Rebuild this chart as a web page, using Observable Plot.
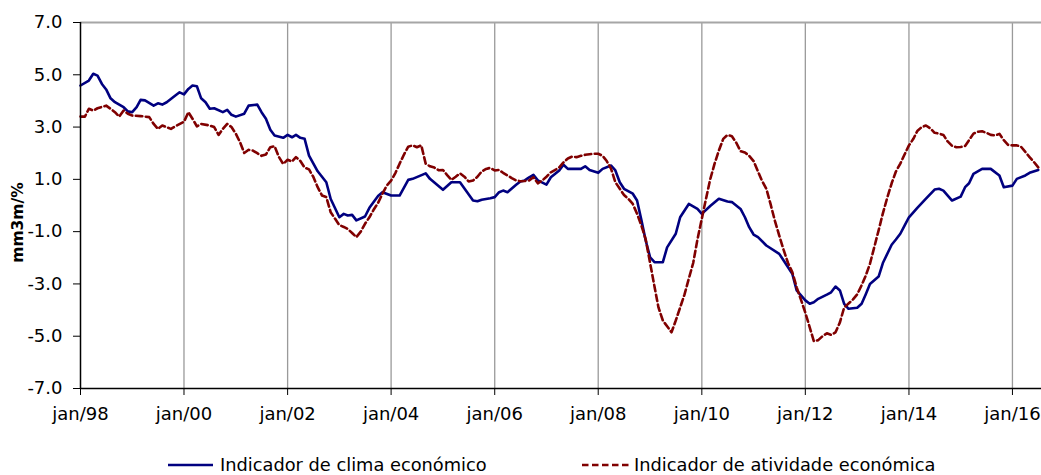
<!DOCTYPE html>
<html>
<head>
<meta charset="utf-8">
<script src="https://cdn.jsdelivr.net/npm/d3@7"></script>
<script src="https://cdn.jsdelivr.net/npm/@observablehq/plot@0.6"></script>
<style>
  body { margin: 0; background: #fff; font-family: "DejaVu Sans", Verdana, sans-serif; }
  #wrap { width: 1041px; }
  #legend { position: relative; width: 1041px; height: 45px; font-size: 17.8px; color: #000; }
  #legend .sw { position: absolute; top: 25px; }
  #legend .lab { position: absolute; top: 24px; line-height: 22px; white-space: nowrap; }
</style>
</head>
<body>
<div id="wrap">
  <div id="chart"></div>
  <div id="legend"></div>
</div>
<script>
// Months counted from jan/98 (0 = jan/98)
const climaMes = [0,2,3,4,5,6,7,8,10,11,12,13,14,15,17,18,19,20,22,23,24,25,26,27,28,29,30,31,33,34,35,36,38,39,41,42,43,44,45,47,48,49,50,51,52,53,55,57,58,60,61,62,63,64,66,67,69,70,72,74,76,77,80,81,84,86,88,91,92,93,95,96,97,98,99,101,102,103,104,105,106,108,109,111,112,113,116,117,118,120,121,123,124,125,126,128,129,130,131,132,133,135,136,138,139,141,143,144,146,148,150,151,153,154,155,156,157,159,162,163,165,166,168,169,170,171,173,174,175,176,177,178,180,181,182,183,185,186,188,189,190,191,192,194,196,198,199,200,202,204,205,206,207,209,211,213,214,216,217,219,220,222];
const climaValor = [4.59,4.78,5.04,4.97,4.65,4.44,4.10,3.95,3.76,3.60,3.57,3.76,4.04,4.02,3.82,3.91,3.86,3.95,4.21,4.33,4.25,4.46,4.59,4.56,4.10,3.95,3.70,3.72,3.57,3.66,3.47,3.40,3.51,3.82,3.86,3.57,3.32,2.90,2.68,2.59,2.70,2.61,2.70,2.59,2.55,1.91,1.31,0.89,0.25,-0.45,-0.32,-0.38,-0.36,-0.57,-0.42,-0.09,0.36,0.51,0.38,0.38,0.98,1.02,1.23,1.02,0.60,0.89,0.89,0.19,0.16,0.22,0.28,0.32,0.51,0.57,0.51,0.79,0.92,0.96,1.08,1.17,0.96,0.80,1.08,1.34,1.56,1.40,1.40,1.50,1.36,1.25,1.40,1.53,1.34,0.89,0.64,0.45,0.19,-0.57,-1.34,-1.98,-2.17,-2.17,-1.60,-1.08,-0.45,0.06,-0.13,-0.32,-0.02,0.26,0.15,0.13,-0.13,-0.45,-0.83,-1.11,-1.21,-1.53,-1.85,-2.10,-2.61,-3.25,-3.63,-3.76,-3.70,-3.57,-3.41,-3.32,-3.10,-3.25,-3.76,-3.95,-3.91,-3.76,-3.41,-3.00,-2.72,-2.20,-1.50,-1.30,-1.08,-0.77,-0.45,-0.09,0.26,0.61,0.64,0.57,0.19,0.34,0.70,0.85,1.21,1.40,1.40,1.15,0.70,0.76,1.02,1.15,1.25,1.36];

const atividadeMes = [0,1,2,3,4,6,7,8,9,10,11,12,14,16,17,18,19,21,22,24,25,26,27,28,30,31,32,33,34,35,36,37,38,39,40,41,42,43,44,45,46,47,48,49,50,51,52,53,54,55,56,57,58,59,60,61,62,63,64,65,66,67,68,69,70,71,72,73,74,75,76,77,78,79,80,81,82,83,84,85,86,87,88,89,90,91,92,93,94,95,96,97,98,99,100,101,102,103,104,105,106,107,108,109,110,111,112,113,114,115,116,117,118,119,120,121,122,123,124,125,126,127,128,129,130,131,132,133,134,135,136,137,138,139,140,141,142,143,144,145,146,147,148,149,150,151,152,153,154,155,156,157,158,159,160,161,162,163,164,165,166,167,168,169,170,171,172,173,174,175,176,177,178,179,180,181,182,183,184,185,186,187,188,189,190,191,192,193,194,195,196,197,198,199,200,201,202,203,204,205,206,207,208,209,210,211,212,213,214,215,216,217,218,219,220,221,222];
const atividadeValor = [3.40,3.40,3.70,3.63,3.72,3.82,3.70,3.57,3.40,3.63,3.51,3.44,3.42,3.38,3.12,2.93,3.06,2.93,3.03,3.20,3.57,3.32,3.03,3.12,3.06,3.00,2.70,2.93,3.12,3.00,2.74,2.40,2.01,2.13,2.10,2.00,1.90,1.95,2.23,2.27,1.85,1.59,1.75,1.68,1.85,1.70,1.45,1.38,1.10,0.70,0.38,0.32,-0.26,-0.50,-0.75,-0.82,-0.90,-1.05,-1.21,-1.00,-0.70,-0.45,-0.15,0.10,0.45,0.76,0.95,1.25,1.60,1.95,2.25,2.30,2.23,2.30,1.60,1.50,1.45,1.35,1.36,1.15,0.98,1.10,1.23,1.10,0.92,0.96,1.10,1.30,1.40,1.44,1.34,1.36,1.25,1.15,1.05,0.96,0.93,0.94,0.96,1.08,0.85,0.95,1.10,1.27,1.35,1.46,1.65,1.80,1.87,1.85,1.90,1.94,1.96,1.98,1.98,1.90,1.70,1.40,0.89,0.64,0.40,0.25,0.06,-0.32,-0.77,-1.30,-2.20,-3.10,-3.90,-4.40,-4.62,-4.85,-4.40,-3.90,-3.40,-2.80,-2.20,-1.30,-0.50,0.30,1.00,1.60,2.10,2.55,2.70,2.65,2.40,2.08,2.03,1.90,1.70,1.30,0.95,0.64,0.05,-0.60,-1.15,-1.70,-2.20,-2.55,-3.13,-3.60,-4.10,-4.66,-5.19,-5.15,-5.00,-4.89,-4.95,-4.85,-4.47,-3.90,-3.75,-3.60,-3.40,-3.05,-2.70,-2.23,-1.60,-0.95,-0.30,0.30,0.85,1.30,1.60,1.95,2.30,2.55,2.85,3.00,3.06,2.95,2.78,2.75,2.70,2.45,2.28,2.23,2.24,2.28,2.50,2.75,2.82,2.84,2.78,2.70,2.68,2.74,2.50,2.32,2.30,2.30,2.25,2.05,1.85,1.66,1.46];

const tickYears = [1998,2000,2002,2004,2006,2008,2010,2012,2014,2016];
const yTicks = [-7,-5,-3,-1,1,3,5,7];
const serieNomes = ["Indicador de clima económico", "Indicador de atividade económica"];
const yLabel = "mm3m/%";

const toDate = m => new Date(Date.UTC(1998, m, 1));
const clima = climaMes.map((m, i) => ({date: toDate(m), value: climaValor[i]}));
const atividade = atividadeMes.map((m, i) => ({date: toDate(m), value: atividadeValor[i]}));
const tickDates = tickYears.map(y => new Date(Date.UTC(y, 0, 1)));
const xStart = tickDates[0];
const xEnd = new Date(Date.UTC(2016, 6, 24));

const blue = "#000080", red = "#800000";

const chart = Plot.plot({
  width: 1041,
  height: 430,
  marginLeft: 80,
  marginRight: 0,
  marginTop: 22,
  marginBottom: 42,
  style: {fontFamily: "DejaVu Sans, Verdana, sans-serif", fontSize: "18px", color: "#000", background: "#fff", overflow: "visible"},
  x: {type: "utc", domain: [xStart, xEnd]},
  y: {domain: [-7, 7]},
  marks: [
    Plot.ruleX(tickDates.slice(1), {stroke: "#9a9a9a", strokeWidth: 1.3}),
    Plot.ruleY([7], {stroke: "#a6a6a6", strokeWidth: 2}),
    Plot.line(clima, {x: "date", y: "value", stroke: blue, strokeWidth: 2.6, curve: "linear"}),
    Plot.line(atividade, {x: "date", y: "value", stroke: red, strokeWidth: 2.6, strokeDasharray: "6.5,3.5"}),
    Plot.ruleX([xStart], {stroke: "#000", strokeWidth: 1.5}),
    Plot.ruleY([-7], {stroke: "#000", strokeWidth: 1.5}),
    Plot.axisY({ticks: yTicks, tickFormat: d => d.toFixed(1), tickSize: 7, tickPadding: 11, label: null, fontSize: 18, stroke: "#000"}),
    Plot.axisX({ticks: tickDates, tickFormat: d => "jan/" + String(d.getUTCFullYear() % 100).padStart(2, "0"), tickSize: 7, tickPadding: 12, label: null, fontSize: 18, stroke: "#000"}),
    Plot.text([yLabel], {frameAnchor: "left", dx: -62, dy: 17, rotate: -90, textAnchor: "middle", text: d => d, fontWeight: "bold", fontSize: 15.5, fill: "#000"})
  ]
});
document.getElementById("chart").appendChild(chart);

// Legend (below the SVG)
const legend = document.getElementById("legend");
const items = [
  {name: serieNomes[0], color: blue, dash: null, x0: 168, x1: 213, tx: 220},
  {name: serieNomes[1], color: red, dash: "6.5,3.5", x0: 582, x1: 630, tx: 634}
];
for (const it of items) {
  const svg = d3.create("svg").attr("class", "sw").attr("width", it.x1 - it.x0).attr("height", 20)
    .style("left", it.x0 + "px").style("top", "25px");
  svg.append("line").attr("x1", 0).attr("x2", it.x1 - it.x0).attr("y1", 10).attr("y2", 10)
    .attr("stroke", it.color).attr("stroke-width", 2.6).attr("stroke-dasharray", it.dash);
  legend.appendChild(svg.node());
  const span = document.createElement("span");
  span.className = "lab";
  span.style.left = it.tx + "px";
  span.textContent = it.name;
  legend.appendChild(span);
}
</script>
</body>
</html>
